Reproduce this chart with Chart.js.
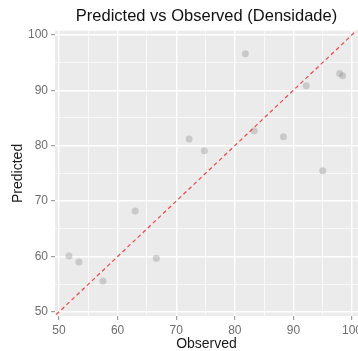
<!DOCTYPE html>
<html>
<head>
<meta charset="utf-8">
<script src="https://cdn.jsdelivr.net/npm/chart.js@4"></script>
<style>
  html, body { margin: 0; padding: 0; background: #fff; overflow: hidden; }
  canvas { display: block; }
</style>
</head>
<body>
<canvas id="pvoChart" width="358" height="351"></canvas>
<script>
let observed  = [51.7, 53.4, 57.5, 63.0, 66.6, 72.2, 74.8, 81.8, 83.3, 88.3, 92.2, 95.0, 97.9, 98.4];
let predicted = [60.1, 59.0, 55.6, 68.2, 59.7, 81.2, 79.1, 96.6, 82.7, 81.6, 90.8, 75.5, 93.0, 92.6];
let gridTicks = [50, 55, 60, 65, 70, 75, 80, 85, 90, 95, 100];
let identityRange = [40, 110];

const fontFamily = '"Liberation Sans", Arial, sans-serif';
const isMajor = ctx => ctx.tick && ctx.tick.value % 10 === 0;

// grey panel behind the grid
const panelBackground = {
    id: 'panelBackground',
    beforeDraw(chart) {
        const {ctx, chartArea: a} = chart;
        ctx.save();
        ctx.fillStyle = '#ffffff';
        ctx.fillRect(0, 0, chart.width, chart.height);
        ctx.fillStyle = '#ebebeb';
        ctx.fillRect(a.left, a.top, a.right - a.left, a.bottom - a.top);
        ctx.restore();
    }
};

function axisGrid() {
    return {
        color: '#ffffff',
        lineWidth: ctx => isMajor(ctx) ? 1.4 : 0.7,
        tickColor: ctx => isMajor(ctx) ? '#8a8a8a' : 'rgba(0,0,0,0)',
        tickLength: 4,
        tickWidth: 1
    };
}

function axisTicks() {
    return {
        autoSkip: false,
        maxRotation: 0,
        padding: 3,
        color: '#6e6e6e',
        font: { family: fontFamily, size: 12 },
        callback: v => v % 10 === 0 ? v : ''
    };
}

let pvoChart = document.getElementById('pvoChart').getContext('2d');

let new_pvo_chart = new Chart(pvoChart, {
    type: 'scatter',
    data: {
        datasets: [{
            // y = x reference line
            type: 'line',
            data: identityRange.map(v => ({x: v, y: v})),
            borderColor: '#ef4646',
            borderWidth: 1.2,
            borderDash: [4, 3],
            pointRadius: 0,
            fill: false
        }, {
            data: observed.map((x, i) => ({x: x, y: predicted[i]})),
            backgroundColor: 'rgba(150, 150, 150, 0.4)',
            borderWidth: 0,
            pointRadius: 3.5
        }]
    },

    options: {
        responsive: false,
        animation: false,
        layout: { padding: 0, autoPadding: false },
        plugins: {
            legend: { display: false },
            tooltip: { enabled: false },
            title: {
                display: true,
                fullSize: false,
                text: 'Predicted vs Observed (Densidade)',
                color: '#111111',
                font: { family: fontFamily, size: 16.5, weight: 'normal' },
                padding: { top: 7, bottom: 4 }
            }
        },
        scales: {
            x: {
                type: 'linear',
                min: 49.32,
                max: 101.02,
                afterBuildTicks: s => { s.ticks = gridTicks.map(v => ({value: v})); },
                afterFit: s => { s.height = 35; s.paddingLeft = 0; s.paddingRight = 0; },
                ticks: axisTicks(),
                grid: axisGrid(),
                border: { display: false },
                title: {
                    display: true,
                    text: 'Observed',
                    color: '#1a1a1a',
                    font: { family: fontFamily, size: 14, lineHeight: 1 },
                    padding: { top: 0, bottom: 0 }
                }
            },
            y: {
                type: 'linear',
                min: 49.28,
                max: 100.72,
                afterBuildTicks: s => { s.ticks = gridTicks.map(v => ({value: v})); },
                afterFit: s => { s.width = 55; s.paddingTop = 0; s.paddingBottom = 0; },
                ticks: axisTicks(),
                grid: axisGrid(),
                border: { display: false },
                title: {
                    display: true,
                    text: 'Predicted',
                    color: '#1a1a1a',
                    font: { family: fontFamily, size: 14 },
                    padding: { top: 10, bottom: 0 }
                }
            }
        }
    },
    plugins: [panelBackground]
});
</script>
</body>
</html>
